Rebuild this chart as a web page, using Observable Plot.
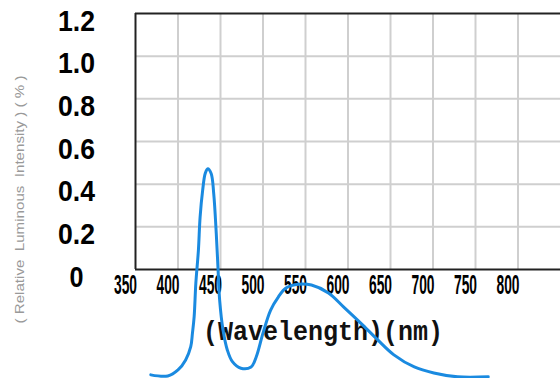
<!DOCTYPE html>
<html><head><meta charset="utf-8">
<script src="https://cdn.jsdelivr.net/npm/d3@7"></script>
<script src="https://cdn.jsdelivr.net/npm/@observablehq/plot@0.6"></script>
<style>body{margin:0;background:#fff;overflow:hidden}</style>
</head><body><div id="chart"></div>
<script>
const wavelength = [368, 388, 400, 409, 415, 417, 419, 421, 424, 426, 429, 432, 435, 439, 442, 445, 447, 449, 453, 458, 464, 474, 486, 492, 500, 509, 518, 527, 542, 557, 577, 595, 615, 635, 654, 678, 701, 729, 765];
const intensity = [-0.494, -0.499, -0.471, -0.424, -0.362, -0.298, -0.221, -0.064, 0.090, 0.246, 0.371, 0.450, 0.472, 0.450, 0.357, 0.170, 0.012, -0.143, -0.284, -0.377, -0.432, -0.463, -0.457, -0.410, -0.298, -0.190, -0.129, -0.087, -0.069, -0.073, -0.110, -0.176, -0.251, -0.330, -0.400, -0.457, -0.485, -0.503, -0.503];
const xTicks = [350, 400, 450, 500, 550, 600, 650, 700, 750, 800];
const yTicks = [0, 0.2, 0.4, 0.6, 0.8, 1.0, 1.2];
const yTickLabels = ["0", "0.2", "0.4", "0.6", "0.8", "1.0", "1.2"];
const xGrid = [400, 450, 500, 550, 600, 650, 700, 750, 800];
const yGrid = [0.2, 0.4, 0.6, 0.8, 1.0];
const yTitle = "( Relative  Luminous  Intensity ) ( % )";
const xTitle = "(Wavelength)(nm)";

const spectrum = wavelength.map((w, i) => ({w, v: intensity[i]}));
const yLab = yTicks.map((t, i) => ({t, s: yTickLabels[i]}));

const chart = Plot.plot({
  width: 560, height: 378,
  marginLeft: 135, marginTop: 13, marginRight: 0, marginBottom: 109,
  x: {domain: [350, 850], axis: null},
  y: {domain: [0, 1.2], axis: null},
  style: {background: "#fff"},
  marks: [
    Plot.ruleX(xGrid, {stroke: "#cfcfcf", strokeWidth: 2}),
    Plot.ruleY(yGrid, {stroke: "#cfcfcf", strokeWidth: 2}),
    Plot.ruleX([350], {stroke: "#222", strokeWidth: 2}),
    Plot.ruleY([0, 1.2], {stroke: "#222", strokeWidth: 2}),
    Plot.text(xTicks, {x: d => d, frameAnchor: "bottom", lineAnchor: "middle", textAnchor: "middle", dy: 16, dx: -10, text: d => String(d),
      fontSize: 27, fontWeight: "bold", fontFamily: "Liberation Sans, sans-serif",
      fill: "#000", ariaDescription: "xticks"}),
    Plot.text(yLab, {y: "t", frameAnchor: "left", lineAnchor: "middle", dx: -59, dy: 8, text: "s", textAnchor: "middle",
      fontSize: 29, fontWeight: "bold", fontFamily: "Liberation Sans, sans-serif",
      fill: "#000", ariaDescription: "yticks"}),
    Plot.text([xTitle], {frameAnchor: "bottom", lineAnchor: "middle", textAnchor: "middle", dy: 62, dx: -25, text: d => d,
      fontSize: 28, fontWeight: "bold", fontFamily: "Liberation Mono, monospace", fill: "#111", ariaDescription: "xtitle"}),
    Plot.text([yTitle], {frameAnchor: "left", lineAnchor: "middle", textAnchor: "middle", dx: -115, dy: 58, rotate: -90, text: d => d,
      fontSize: 12, fontFamily: "Liberation Sans, sans-serif", fill: "#999", ariaDescription: "ytitle"}),
    Plot.line(spectrum, {x: "w", y: "v", stroke: "#1a8ae0", strokeWidth: 3, curve: "catmull-rom"})
  ]
});
document.getElementById("chart").appendChild(chart);
const fit = (name, len) => d3.select(chart)
  .selectAll(`g[aria-description="${name}"] text`)
  .attr("textLength", len).attr("lengthAdjust", "spacingAndGlyphs");
fit("xticks", 23);
fit("yticks", function() { return this.textContent.length > 1 ? 37 : 14; });
fit("xtitle", 240);
fit("ytitle", 248);
</script>
</body></html>
